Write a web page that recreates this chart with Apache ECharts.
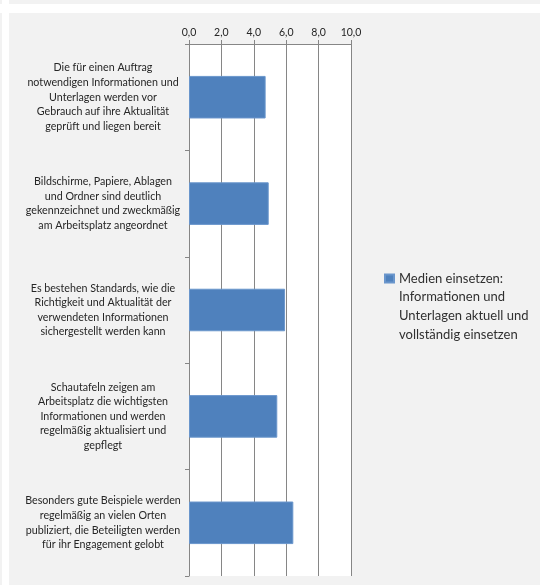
<!DOCTYPE html>
<html>
<head>
<meta charset="utf-8">
<script src="https://cdn.jsdelivr.net/npm/echarts@6/dist/echarts.min.js"></script>
<style>
  html, body { margin: 0; padding: 0; background: #f2f2f2; }
  #bandTop { position: absolute; left: 0; top: 4px; width: 540px; height: 9px; background: #fff; }
  #bandLeft { position: absolute; left: 2px; top: 0; width: 7px; height: 585px; background: #fff; }
  #chart { position: absolute; left: 0; top: 0; width: 540px; height: 585px; }
</style>
</head>
<body>
<div id="bandTop"></div>
<div id="bandLeft"></div>
<div id="chart"></div>
<script>
const categories = [
  "Die für einen Auftrag\nnotwendigen Informationen und\nUnterlagen werden vor\nGebrauch auf ihre Aktualität\ngeprüft und liegen bereit",
  "Bildschirme, Papiere, Ablagen\nund Ordner sind deutlich\ngekennzeichnet und zweckmäßig\nam Arbeitsplatz angeordnet",
  "Es bestehen Standards, wie die\nRichtigkeit und Aktualität der\nverwendeten Informationen\nsichergestellt werden kann",
  "Schautafeln zeigen am\nArbeitsplatz die wichtigsten\nInformationen und werden\nregelmäßig aktualisiert und\ngepflegt",
  "Besonders gute Beispiele werden\nregelmäßig an vielen Orten\npubliziert, die Beteiligten werden\nfür ihr Engagement gelobt"
];
const values = [4.73, 4.92, 5.93, 5.45, 6.44];
const seriesName = "Medien einsetzen:\nInformationen und\nUnterlagen aktuell und\nvollständig einsetzen";
const xTicks = { min: 0, max: 10, interval: 2 };

const chart = echarts.init(document.getElementById('chart'), null, { renderer: 'canvas' });
const axisGray = '#868686';
chart.setOption({
  backgroundColor: 'transparent',
  animation: false,
  textStyle: { fontFamily: 'Lato' },
  grid: {
    left: 189, right: 189, top: 44, bottom: 9,
    show: true, backgroundColor: '#ffffff', borderWidth: 0
  },
  legend: {
    show: true,
    left: 384, top: 213,
    padding: 0,
    orient: 'vertical',
    itemWidth: 9, itemHeight: 8,
    icon: 'rect',
    data: [seriesName],
    // three leading empty lines keep the first real line level with the icon
    formatter: name => '\n\n\n' + name,
    textStyle: {
      fontFamily: 'Lato', fontSize: 13, color: '#303030',
      lineHeight: 18.7
    }
  },
  xAxis: {
    type: 'value',
    position: 'top',
    min: xTicks.min, max: xTicks.max, interval: xTicks.interval,
    axisLine: { show: true, lineStyle: { color: axisGray, width: 1 } },
    axisTick: { show: true, length: 4, lineStyle: { color: axisGray } },
    splitLine: { show: true, lineStyle: { color: axisGray, width: 1 } },
    axisLabel: {
      formatter: v => v.toFixed(1).replace('.', ','),
      fontSize: 10.5, color: '#262626', margin: 6, fontFamily: 'Lato'
    }
  },
  yAxis: {
    type: 'category',
    inverse: true,
    data: categories,
    axisLine: { show: true, lineStyle: { color: axisGray, width: 1 } },
    axisTick: { show: true, length: 4, lineStyle: { color: axisGray } },
    axisLabel: {
      align: 'center', margin: 86,
      fontSize: 10.7, lineHeight: 14.6, color: '#262626', fontFamily: 'Lato'
    }
  },
  series: [{
    name: seriesName,
    type: 'bar',
    data: values,
    barCategoryGap: '60%',
    itemStyle: { color: '#4f81bd', borderColor: '#6a96cc', borderWidth: 1 }
  }]
});
</script>
</body>
</html>
